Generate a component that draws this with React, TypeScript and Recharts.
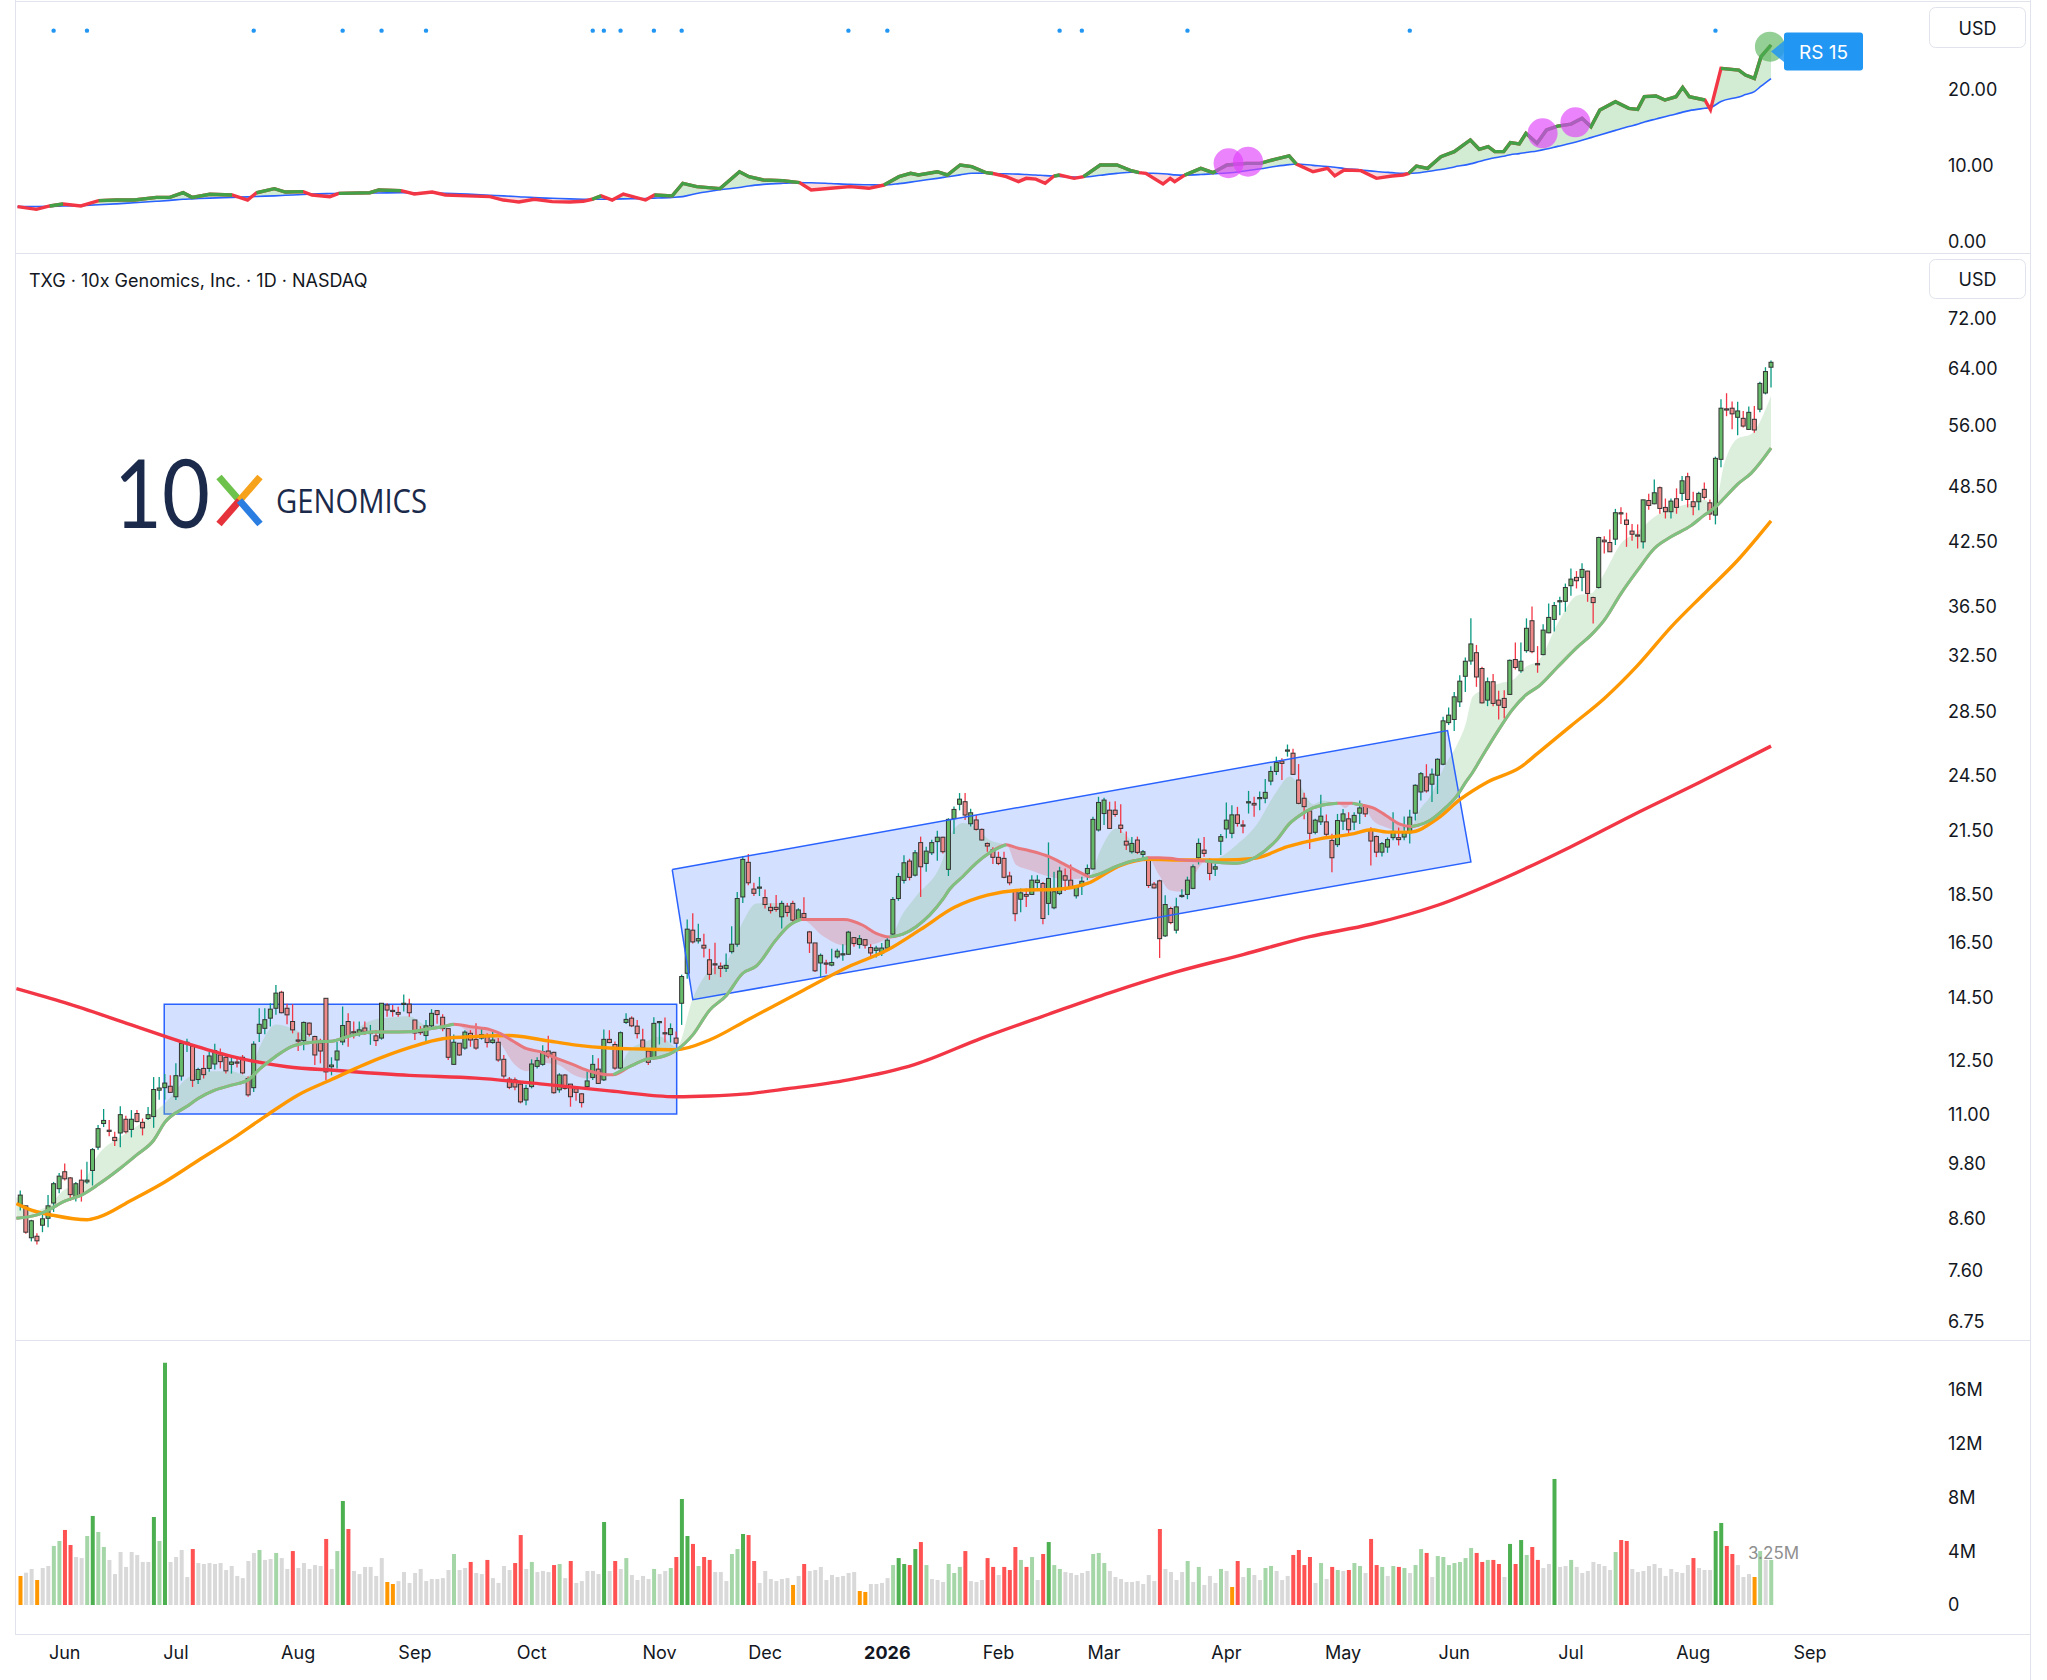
import React from "react";
import { Area, Bar, Cell, ComposedChart, Line, ReferenceArea, XAxis, YAxis } from "recharts";

/* ---------- data (x = trading-day index, 0 = 20 May 2025) ---------- */
const MONTH_TICKS = [8, 28, 50, 71, 92, 115, 134, 156, 176, 195, 217, 238, 258, 279, 301, 322];
const MONTH_LABELS = ["Jun", "Jul", "Aug", "Sep", "Oct", "Nov", "Dec", "2026", "Feb", "Mar", "Apr", "May", "Jun", "Jul", "Aug", "Sep"];
const PRICE_TICKS = [6.75, 7.6, 8.6, 9.8, 11, 12.5, 14.5, 16.5, 18.5, 21.5, 24.5, 28.5, 32.5, 36.5, 42.5, 48.5, 56, 64, 72];
const RS_TICKS = [0, 10, 20];
const VOL_TICKS = [0, 4, 8, 12, 16];

// open, high, low, close
const OHLC: [number, number, number, number][] = [
  [8.98, 9.28, 8.85, 9.18], [8.95, 8.95, 8.38, 8.41], [8.3, 8.66, 8.23, 8.64], [8.33, 8.39, 8.17, 8.24],
  [8.55, 8.78, 8.41, 8.68], [8.69, 9.18, 8.51, 8.95], [9.01, 9.47, 8.82, 9.43], [9.32, 9.67, 9.22, 9.6],
  [9.7, 9.89, 9.5, 9.54], [9.56, 9.58, 9.06, 9.19], [9.13, 9.47, 9.04, 9.43], [9.51, 9.75, 9.04, 9.19],
  [9.47, 9.93, 9.43, 9.51], [9.73, 10.26, 9.39, 10.22], [10.28, 10.83, 10.22, 10.74], [10.87, 11.25, 10.78, 10.95],
  [10.7, 10.96, 10.55, 10.68], [10.52, 10.66, 10.31, 10.44], [10.63, 11.32, 10.28, 11.1], [10.98, 11.07, 10.62, 10.66],
  [10.72, 11.22, 10.52, 10.98], [11.13, 11.22, 10.9, 10.92], [10.9, 11.0, 10.57, 10.76], [11.0, 11.3, 10.96, 11.1],
  [11.05, 12.13, 10.76, 11.78], [11.76, 12.13, 11.5, 11.82], [11.83, 12.22, 11.5, 11.96], [11.87, 12.18, 11.68, 11.7],
  [11.58, 12.53, 11.49, 12.17], [12.16, 13.18, 12.03, 13.13], [13.13, 13.28, 12.87, 13.17], [13.05, 13.05, 11.85, 12.04],
  [12.06, 12.4, 11.93, 12.35], [12.38, 12.78, 12.09, 12.2], [12.38, 12.88, 12.28, 12.75], [12.51, 13.12, 12.35, 12.91],
  [12.78, 12.98, 12.38, 12.58], [12.71, 12.78, 12.23, 12.31], [12.5, 12.75, 12.23, 12.57], [12.57, 12.73, 12.41, 12.56],
  [12.71, 12.78, 12.21, 12.25], [12.09, 12.15, 11.58, 11.63], [11.83, 13.2, 11.71, 13.11], [13.45, 14.27, 13.18, 13.74],
  [13.61, 14.27, 13.42, 13.89], [13.94, 14.44, 13.67, 14.24], [14.27, 15.08, 14.05, 14.79], [14.82, 14.87, 14.1, 14.12],
  [14.27, 14.42, 13.74, 14.05], [13.83, 14.41, 13.45, 13.56], [13.24, 13.48, 12.9, 13.21], [13.22, 13.83, 12.92, 13.8],
  [13.78, 13.8, 13.35, 13.42], [13.35, 13.37, 12.48, 12.78], [13.15, 13.28, 12.53, 12.9], [14.61, 14.61, 12.04, 12.28],
  [12.43, 12.71, 12.18, 12.48], [12.63, 13.18, 12.38, 12.9], [13.18, 14.33, 13.08, 13.7], [13.83, 14.1, 13.03, 13.35],
  [13.5, 13.83, 13.29, 13.48], [13.46, 13.83, 13.35, 13.56], [13.62, 13.83, 13.4, 13.51], [13.46, 13.72, 13.09, 13.48],
  [13.37, 13.56, 13.05, 13.22], [13.3, 14.44, 13.25, 14.44], [14.38, 14.44, 13.99, 14.21], [14.2, 14.38, 13.99, 14.19],
  [14.13, 14.32, 13.99, 14.07], [14.42, 14.74, 14.16, 14.44], [14.41, 14.59, 13.99, 14.12], [13.88, 13.88, 13.24, 13.46],
  [13.51, 13.68, 13.4, 13.47], [13.38, 13.88, 13.14, 13.69], [13.69, 14.24, 13.6, 14.1], [14.19, 14.21, 13.76, 14.06],
  [13.97, 14.07, 13.52, 13.6], [13.6, 13.6, 12.63, 12.71], [12.5, 13.41, 12.48, 13.17], [13.14, 13.14, 12.75, 12.78],
  [12.99, 13.55, 12.94, 13.49], [13.45, 13.55, 13.03, 13.24], [13.26, 13.77, 12.94, 12.99], [13.3, 13.6, 13.25, 13.41],
  [13.37, 13.45, 13.01, 13.16], [13.16, 13.5, 13.12, 13.24], [13.17, 13.3, 12.58, 12.63], [12.65, 12.78, 12.09, 12.16],
  [12.07, 12.13, 11.79, 11.84], [12.05, 12.12, 11.76, 11.85], [11.93, 11.96, 11.4, 11.44], [11.49, 11.91, 11.35, 11.81],
  [11.86, 12.65, 11.81, 12.51], [12.44, 12.71, 12.38, 12.61], [12.5, 13.08, 12.46, 12.88], [12.9, 13.37, 12.68, 12.75],
  [12.86, 12.88, 11.66, 11.69], [11.77, 12.24, 11.69, 12.19], [12.19, 12.22, 11.77, 11.81], [11.93, 11.93, 11.31, 11.58],
  [11.8, 11.86, 11.47, 11.7], [11.66, 11.68, 11.29, 11.42], [11.86, 12.29, 11.77, 12.02], [12.12, 12.78, 12.05, 12.5],
  [12.36, 12.68, 11.94, 11.95], [12.05, 13.57, 12.02, 13.26], [13.26, 13.55, 13.14, 13.16], [13.1, 13.19, 12.34, 12.39],
  [12.39, 13.51, 12.36, 13.47], [13.8, 14.1, 13.75, 13.9], [13.94, 14.0, 13.65, 13.69], [13.68, 13.88, 13.29, 13.44],
  [13.24, 13.6, 12.94, 13.01], [12.9, 12.93, 12.48, 12.56], [12.68, 13.97, 12.63, 13.77], [13.8, 13.85, 13.1, 13.83],
  [13.47, 13.96, 13.16, 13.45], [13.41, 13.77, 13.16, 13.6], [13.3, 13.51, 13.12, 13.14], [14.44, 15.45, 13.72, 15.38],
  [15.5, 17.6, 15.3, 17.2], [17.16, 17.86, 16.63, 16.69], [16.73, 17.42, 16.63, 16.82], [16.56, 17.02, 16.09, 16.45],
  [16.0, 16.42, 15.26, 15.46], [15.85, 16.66, 15.46, 15.82], [15.76, 15.9, 15.36, 15.68], [15.68, 16.24, 15.55, 15.79],
  [16.31, 17.32, 16.24, 16.6], [16.6, 18.78, 16.5, 18.49], [18.56, 20.44, 18.3, 20.28], [20.14, 20.54, 19.08, 19.19],
  [18.91, 19.19, 18.6, 18.72], [18.97, 19.46, 18.6, 19.0], [18.53, 18.89, 18.06, 18.23], [18.11, 18.28, 17.85, 17.97],
  [18.11, 18.65, 17.92, 18.02], [17.71, 18.39, 17.23, 18.28], [18.16, 18.3, 17.71, 17.89], [18.28, 18.39, 17.5, 17.57],
  [17.57, 18.07, 17.5, 18.0], [17.85, 18.55, 17.63, 17.67], [17.09, 17.13, 16.26, 16.65], [16.65, 16.65, 15.55, 15.59],
  [15.88, 16.24, 15.36, 16.17], [15.88, 16.0, 15.48, 15.86], [15.8, 16.42, 15.76, 15.9], [16.11, 16.42, 16.05, 16.33],
  [16.21, 16.6, 15.96, 16.23], [16.21, 17.13, 16.19, 17.08], [16.86, 16.89, 16.5, 16.63], [16.59, 16.96, 16.43, 16.82],
  [16.78, 16.8, 16.43, 16.56], [16.47, 16.6, 16.11, 16.26], [16.36, 16.54, 16.09, 16.45], [16.26, 16.65, 16.14, 16.45],
  [16.45, 16.86, 16.38, 16.76], [17.0, 18.56, 16.89, 18.45], [18.49, 19.63, 18.39, 19.48], [19.3, 20.48, 19.16, 20.12],
  [20.2, 20.31, 19.3, 19.44], [19.54, 20.73, 19.48, 20.6], [21.1, 21.4, 18.56, 19.93], [20.09, 20.89, 19.7, 20.68],
  [20.6, 21.24, 20.49, 21.1], [21.15, 21.7, 20.22, 21.37], [21.37, 21.4, 20.57, 20.65], [19.81, 22.35, 19.5, 22.29],
  [22.33, 22.98, 21.54, 22.82], [23.1, 23.72, 22.77, 23.38], [23.24, 23.72, 22.26, 22.52], [22.06, 22.86, 21.92, 22.64],
  [22.26, 22.52, 21.71, 21.77], [21.77, 21.82, 21.2, 21.23], [21.06, 21.1, 20.65, 20.93], [20.74, 20.87, 20.06, 20.38],
  [20.38, 20.65, 20.01, 20.09], [20.33, 20.65, 19.4, 19.44], [19.5, 19.7, 19.08, 19.19], [18.82, 18.82, 17.52, 17.84],
  [18.46, 18.93, 17.9, 18.74], [18.67, 18.93, 18.12, 18.59], [18.67, 19.54, 18.64, 19.31], [19.2, 19.54, 18.82, 19.31],
  [19.16, 19.23, 17.4, 17.64], [18.28, 21.11, 17.78, 19.39], [18.09, 19.7, 18.03, 18.79], [18.71, 19.93, 18.64, 19.73],
  [19.51, 19.85, 18.82, 19.31], [19.31, 20.04, 18.93, 19.0], [18.61, 19.08, 18.49, 19.0], [19.05, 19.47, 18.64, 19.26],
  [19.6, 20.04, 19.31, 19.85], [19.83, 22.43, 19.8, 22.29], [21.74, 23.51, 21.66, 23.2], [22.6, 23.46, 22.0, 23.33],
  [22.78, 23.24, 21.79, 21.82], [22.78, 23.27, 22.43, 22.55], [21.99, 23.1, 21.58, 21.82], [21.17, 21.66, 20.73, 20.98],
  [20.65, 21.38, 20.57, 21.06], [21.23, 21.4, 20.54, 20.62], [20.52, 20.73, 20.2, 20.65], [20.36, 20.41, 18.96, 19.07],
  [19.13, 19.23, 18.93, 18.96], [19.28, 19.33, 16.07, 16.82], [16.93, 18.63, 16.89, 18.23], [18.06, 18.13, 17.4, 17.47],
  [17.16, 18.53, 17.03, 18.13], [18.59, 18.9, 18.53, 18.63], [18.67, 19.47, 18.46, 19.31], [18.94, 20.04, 18.9, 19.93],
  [20.36, 21.31, 20.04, 21.06], [20.73, 21.38, 20.41, 20.57], [20.25, 20.33, 19.31, 19.62], [19.82, 20.09, 19.5, 19.93],
  [21.17, 21.53, 20.49, 21.4], [21.79, 23.2, 21.32, 22.25], [21.57, 23.04, 21.32, 22.53], [22.53, 22.96, 21.91, 22.08],
  [22.0, 22.25, 21.57, 21.97], [23.2, 23.84, 22.6, 23.24], [23.15, 23.51, 22.43, 23.06], [23.43, 23.8, 22.78, 23.47],
  [23.43, 24.52, 23.15, 23.76], [24.4, 25.27, 24.16, 24.96], [24.96, 25.85, 24.75, 25.5], [25.58, 25.75, 24.46, 25.44],
  [26.22, 26.6, 25.85, 26.26], [26.06, 26.33, 24.75, 24.79], [24.46, 25.4, 23.1, 23.15], [23.43, 23.74, 22.3, 22.97],
  [22.74, 22.78, 20.79, 21.57], [21.62, 22.33, 21.52, 22.25], [22.16, 23.62, 21.99, 22.46], [22.16, 22.55, 21.29, 21.52],
  [21.21, 21.55, 19.68, 20.36], [21.0, 22.58, 20.88, 22.23], [22.2, 22.85, 21.74, 22.58], [22.32, 22.67, 21.58, 21.75],
  [22.15, 22.67, 21.74, 22.5], [22.62, 23.31, 22.05, 22.9], [23.03, 23.03, 22.41, 22.58], [21.75, 21.88, 19.99, 21.18],
  [21.41, 21.46, 20.39, 20.63], [20.63, 21.13, 20.42, 21.05], [20.88, 21.36, 20.6, 21.25], [21.35, 22.67, 21.22, 21.67],
  [21.35, 21.86, 20.96, 21.25], [21.38, 22.44, 21.22, 21.6], [21.6, 22.8, 21.06, 22.41], [22.62, 24.22, 22.23, 24.16],
  [23.78, 24.93, 23.31, 24.83], [24.64, 25.39, 23.74, 23.84], [24.22, 25.13, 23.22, 24.8], [24.74, 25.75, 23.67, 25.69],
  [25.39, 28.4, 25.33, 28.13], [28.01, 29.03, 27.85, 28.51], [28.22, 30.12, 27.47, 29.77], [29.42, 31.33, 29.06, 30.89],
  [31.25, 32.66, 30.12, 32.38], [32.4, 35.83, 32.12, 33.73], [33.04, 33.65, 30.48, 31.2], [31.83, 31.96, 29.3, 29.35],
  [29.54, 31.16, 29.12, 30.85], [30.85, 31.42, 29.12, 29.31], [29.54, 30.2, 28.22, 29.19], [29.66, 30.24, 28.29, 29.03],
  [29.94, 32.51, 29.9, 32.45], [32.51, 33.84, 31.76, 31.91], [31.66, 33.84, 31.51, 32.38], [33.2, 35.83, 33.04, 35.0],
  [35.63, 36.84, 33.0, 33.12], [32.2, 33.56, 31.51, 32.15], [32.89, 35.34, 32.85, 34.85], [34.63, 37.11, 34.6, 35.91],
  [35.74, 37.25, 34.73, 36.93], [37.3, 37.7, 36.1, 37.36], [37.3, 38.9, 36.4, 38.54], [38.7, 40.3, 37.8, 39.31],
  [39.47, 40.06, 38.45, 39.16], [39.47, 40.8, 38.2, 40.22], [40.06, 40.1, 37.26, 38.0], [37.64, 37.7, 35.4, 37.19],
  [38.54, 43.44, 38.45, 43.37], [43.1, 43.5, 41.75, 42.93], [42.86, 44.2, 41.9, 41.93], [43.2, 46.4, 42.6, 45.98],
  [45.98, 46.57, 44.76, 45.9], [45.19, 45.98, 42.42, 44.73], [44.03, 44.76, 43.03, 43.7], [43.63, 44.73, 42.26, 43.56],
  [42.93, 47.4, 42.26, 47.4], [47.33, 48.1, 46.3, 46.78], [46.96, 49.74, 46.9, 48.2], [48.78, 48.93, 45.87, 46.45],
  [46.56, 47.55, 45.36, 46.09], [46.09, 47.55, 45.36, 47.26], [47.52, 48.7, 45.87, 46.56], [48.13, 50.14, 47.26, 49.58],
  [50.06, 50.53, 46.56, 47.44], [47.19, 48.32, 45.7, 46.64], [47.19, 48.32, 46.24, 48.13], [48.59, 49.39, 47.44, 47.68],
  [47.07, 47.44, 45.2, 45.84], [45.72, 52.49, 44.73, 52.28], [52.16, 60.12, 51.18, 58.85], [58.76, 60.97, 57.75, 58.67],
  [58.85, 59.8, 55.99, 58.07], [57.6, 59.76, 55.2, 58.47], [57.46, 58.47, 56.24, 56.42], [55.98, 59.08, 55.9, 58.28],
  [57.33, 59.17, 55.55, 55.9], [58.71, 62.63, 58.28, 62.4], [61.0, 64.83, 60.8, 64.17], [64.83, 65.86, 61.8, 65.59],
];

// volume in millions
const VOLUME = [
  2.16, 2.4, 2.68, 1.86, 2.75, 2.9, 4.39, 4.76, 5.58, 4.46, 3.57, 3.49, 5.13, 6.62, 5.43, 4.31, 3.35, 2.3, 3.94, 2.83,
  3.94, 3.72, 3.2, 3.2, 6.54, 4.76, 18.0, 3.2, 3.57, 4.09, 2.08, 4.16, 3.12, 3.05, 3.12, 3.05, 3.12, 2.6, 2.9, 2.16,
  2.0, 3.27, 3.87, 4.09, 3.35, 3.42, 3.87, 3.49, 2.68, 4.01, 2.75, 3.12, 2.68, 2.97, 2.9, 4.91, 2.68, 4.01, 7.73, 5.65,
  2.53, 2.3, 2.83, 2.83, 2.16, 3.49, 1.71, 1.56, 1.78, 2.45, 1.64, 2.38, 2.68, 1.78, 1.93, 1.93, 2.0, 2.6, 3.79, 2.6,
  2.75, 3.2, 2.38, 2.3, 3.35, 2.0, 1.64, 2.9, 2.6, 3.12, 5.2, 2.68, 3.2, 2.45, 2.53, 2.45, 2.97, 3.05, 2.0, 3.27,
  1.64, 1.78, 2.53, 2.53, 2.3, 6.17, 2.53, 3.27, 2.68, 3.49, 2.23, 1.86, 2.16, 1.93, 2.68, 2.3, 2.53, 2.75, 3.57, 7.88,
  5.13, 4.54, 2.9, 3.57, 3.35, 2.45, 2.45, 1.78, 3.79, 4.16, 5.28, 5.2, 3.27, 1.64, 2.53, 1.93, 1.78, 1.93, 2.0, 1.49,
  2.16, 3.05, 2.53, 2.6, 2.83, 1.86, 2.23, 2.08, 2.16, 2.38, 2.45, 1.04, 0.97, 1.56, 1.56, 1.64, 2.0, 2.97, 3.49, 3.05,
  2.97, 4.16, 4.68, 2.97, 1.93, 1.86, 1.71, 3.05, 2.38, 2.83, 4.01, 1.78, 1.71, 1.86, 3.49, 2.83, 2.23, 2.83, 2.6, 4.31,
  3.35, 2.83, 3.57, 1.86, 3.79, 4.68, 2.97, 2.68, 2.45, 2.38, 2.23, 2.38, 2.53, 3.79, 3.87, 3.12, 2.53, 2.08, 1.93, 1.71,
  1.71, 1.78, 1.56, 2.23, 1.78, 5.65, 2.68, 2.45, 1.86, 2.45, 3.27, 1.71, 2.83, 1.49, 2.16, 1.64, 2.68, 2.53, 1.34, 3.27,
  2.08, 2.75, 2.23, 1.86, 2.75, 2.9, 2.53, 1.86, 2.16, 3.72, 4.09, 2.97, 3.57, 1.64, 3.12, 1.93, 2.83, 2.6, 2.53, 2.6,
  3.12, 2.9, 2.38, 4.91, 2.97, 2.83, 2.16, 2.9, 2.83, 2.75, 2.38, 2.97, 4.16, 3.87, 2.08, 3.64, 3.57, 2.97, 3.12, 3.2,
  3.49, 4.24, 3.87, 3.2, 3.35, 3.35, 3.05, 2.08, 4.54, 3.05, 4.83, 3.72, 4.31, 3.35, 2.75, 3.05, 9.37, 2.83, 2.9, 3.35,
  2.83, 2.38, 2.53, 3.2, 3.05, 2.9, 2.6, 3.94, 4.83, 4.76, 2.68, 2.45, 2.53, 2.9, 3.05, 2.75, 2.16, 2.68, 2.45, 2.38,
  2.97, 3.49, 2.75, 2.6, 2.6, 5.5, 6.1, 4.39, 3.79, 2.97, 2.08, 2.3, 2.08, 4.01, 3.35, 3.35,
];

// G strong up, R strong down, l mild up, g quiet, O lowest
const VOL_TONE =
  "OggOggllRR" + "gglGllgggg" + "ggggGlGggg" + "gRgggggggg" + "ggglgglggR" +
  "gggggRglGR" + "ggggggOOgg" + "gggggggglg" + "gRggRggggR" + "RglgggRlgR" +
  "gggggGgRgl" + "gggglgglRG" + "GRlRRgggll" + "GRRggggggO" + "gRgggggggg" +
  "gOOgggglGG" + "RGRlggglll" + "RgggRRgRRR" + "lRlgRGllgg" + "ggglllgggg" +
  "gggggRgggg" + "lglggglgOR" + "glggllgggR" + "RRRglgRlgR" + "llgRRlglRl" +
  "gllRglllll" + "llRRlRRgGR" + "GlRRggGggl" + "ggggggglRR" + "gggggggggg" +
  "gRgggGGRRg" + "ggOlgl";

const MA200: [number, number][] = [
  [-0.7, 14.95], [8, 14.46], [20, 13.72], [30, 13.13], [38, 12.74], [48, 12.43], [57, 12.32], [70, 12.18],
  [82, 12.1], [94, 11.93], [106, 11.74], [118, 11.58], [124, 11.6], [130, 11.65], [138, 11.8], [149, 12.05],
  [161, 12.5], [173, 13.3], [185, 14.07], [196, 14.8], [208, 15.55], [220, 16.2], [232, 16.9], [243, 17.4],
  [255, 18.2], [267, 19.4], [279, 20.9], [290, 22.5], [302, 24.3], [315, 26.5],
];

const MA50: [number, number][] = [
  [-0.7, 9.0], [2, 8.86], [6, 8.75], [12, 8.66], [14, 8.71], [20, 9.07], [26, 9.47], [32, 9.96], [38, 10.47],
  [44, 11.05], [50, 11.63], [56, 12.06], [62, 12.5], [70, 13.0], [76, 13.28], [82, 13.35], [88, 13.38],
  [94, 13.24], [100, 13.08], [106, 12.99], [112, 12.96], [118, 12.94], [124, 13.24], [131, 13.9], [141, 14.9],
  [149, 15.74], [156, 16.37], [162, 17.19], [168, 18.1], [174, 18.64], [180, 18.86], [186, 18.89], [192, 19.16],
  [198, 20.0], [203, 20.28], [210, 20.25], [216, 20.25], [222, 20.33], [228, 20.9], [234, 21.3], [240, 21.55],
  [243, 21.75], [246, 21.63], [250, 21.63], [255, 22.33], [259, 23.35], [264, 24.35], [270, 25.23], [273, 26.05],
  [279, 27.8], [285, 29.66], [291, 32.07], [297, 35.1], [303, 38.0], [309, 41.1], [315, 45.1],
];

// index, slow average (drawn), fast average (cloud edge)
const EMA_BAND: [number, number, number][] = [
  [-0.7, 8.69, 9.14], [3, 8.76, 8.86], [5, 8.86, 8.95], [8, 9.05, 9.3], [11, 9.18, 9.42], [14, 9.41, 10.1],
  [18, 9.78, 10.53], [21, 10.1, 10.8], [24, 10.45, 11.15], [26, 10.9, 11.4], [30, 11.32, 12.1], [32, 11.53, 12.25],
  [35, 11.76, 12.3], [38, 11.9, 12.3], [41, 12.05, 12.16], [43, 12.35, 13.0], [46, 12.74, 13.73], [49, 13.05, 13.6],
  [53, 13.18, 13.28], [56, 13.2, 13.25], [59, 13.35, 13.45], [63.5, 13.49, 13.88], [66, 13.49, 13.95], [70, 13.5, 14.0],
  [73, 13.58, 13.72], [76, 13.66, 13.72], [78, 13.74, 13.74], [81.5, 13.65, 13.41], [84.5, 13.57, 13.3],
  [86.3, 13.45, 13.14], [88.7, 13.2, 12.54], [91.1, 12.97, 12.3], [93.5, 12.88, 12.55], [96.5, 12.68, 12.5],
  [99.5, 12.49, 12.2], [102.5, 12.3, 12.08], [105.5, 12.2, 12.16], [106.7, 12.2, 12.2], [109.7, 12.44, 12.94],
  [112.7, 12.65, 13.2], [115.1, 12.71, 13.35], [118.1, 12.93, 13.02], [121, 13.4, 14.6], [124, 14.2, 15.6],
  [127, 14.7, 15.9], [130, 15.5, 17.5], [132.4, 15.76, 18.28], [136, 16.78, 18.3], [138.4, 17.36, 18.14],
  [140.5, 17.6, 17.6], [144.6, 17.6, 16.9], [148.2, 17.6, 16.56], [151.6, 17.36, 16.56], [154, 17.03, 16.63],
  [156.4, 16.89, 16.89], [158.8, 17.0, 17.85], [161.2, 17.3, 18.6], [166, 18.46, 20.3], [167.2, 18.9, 21.4],
  [169.6, 19.48, 22.1], [172, 20.1, 21.85], [174.4, 20.6, 21.23], [177.4, 21.0, 21.0], [179.2, 20.85, 20.01],
  [181.6, 20.7, 19.78], [185.2, 20.4, 19.47], [188.2, 20.0, 19.36], [191.2, 19.6, 19.39], [192.4, 19.47, 19.47],
  [194.2, 19.6, 20.65], [197.2, 19.95, 21.82], [199.6, 20.17, 21.3], [202, 20.3, 20.49], [202.9, 20.36, 20.36],
  [204.9, 20.36, 19.54], [206.8, 20.33, 18.86], [209.2, 20.25, 18.79], [211.6, 20.22, 19.7], [213.2, 20.2, 20.2],
  [215.2, 20.15, 20.3], [218.8, 20.1, 20.98], [222.4, 20.41, 21.99], [226, 21.22, 23.8], [228.4, 22.08, 24.66],
  [230.2, 22.5, 24.14], [232.6, 22.9, 23.1], [234.4, 23.06, 23.3], [237, 23.16, 23.16], [238.4, 23.16, 22.9],
  [239.7, 23.15, 23.15], [240.6, 23.1, 23.2], [241.5, 23.05, 23.05], [243.4, 22.9, 22.23], [245.7, 22.5, 21.88],
  [248.1, 22.06, 21.71], [250.3, 21.92, 21.92], [251.7, 22.0, 22.76], [253.6, 22.23, 23.5], [256.5, 22.93, 25.43],
  [258.3, 23.49, 26.45], [260.1, 24.35, 27.97], [261.3, 24.9, 29.77], [263.1, 25.9, 30.24], [266.1, 27.6, 30.73],
  [268.5, 28.9, 30.97], [270.9, 29.9, 31.96], [273.3, 30.55, 32.5], [276.6, 31.94, 35.4], [280.2, 33.5, 37.85],
  [282.6, 34.44, 38.0], [285, 35.68, 39.84], [288, 37.99, 42.75], [291, 40.15, 43.96], [294, 42.26, 45.53],
  [297, 43.44, 46.45], [300.6, 44.6, 47.0], [303, 45.72, 47.37], [304.8, 46.5, 46.64], [306.6, 47.6, 51.67],
  [309, 49.2, 54.8], [311.4, 50.46, 55.35], [315, 53.55, 60.6],
];

// index, relative strength line, its average
const RS_POINTS: [number, number, number][] = [
  [-0.5, 4.58, 4.58], [2.9, 4.23, 4.6], [5.3, 4.67, 4.62], [7.7, 4.93, 4.66], [10.9, 4.67, 4.72], [14.1, 5.37, 4.82],
  [17.3, 5.45, 4.95], [20.5, 5.45, 5.1], [24.5, 5.8, 5.28], [26.9, 5.8, 5.4], [29.3, 6.41, 5.55], [30.9, 5.8, 5.6],
  [34.1, 6.2, 5.7], [38.1, 6.11, 5.8], [40.9, 5.45, 5.87], [42.5, 6.41, 5.92], [45.7, 6.94, 6.0], [47.7, 6.5, 6.07],
  [50.9, 6.55, 6.18], [52.5, 6.11, 6.24], [55.7, 5.89, 6.3], [57.3, 6.33, 6.32], [62.9, 6.41, 6.37], [64.5, 6.77, 6.38],
  [68.5, 6.68, 6.41], [70.9, 6.24, 6.4], [74.1, 6.5, 6.37], [76.5, 6.11, 6.33], [80.5, 6.0, 6.22], [84.5, 5.89, 6.08],
  [86.9, 5.45, 6.0], [89.7, 5.2, 5.88], [92.5, 5.55, 5.76], [95.7, 5.24, 5.68], [98.9, 5.2, 5.6], [101.3, 5.28, 5.56],
  [102.9, 5.55, 5.55], [104.5, 6.0, 5.55], [106.5, 5.45, 5.57], [108.5, 6.24, 5.6], [112.5, 5.45, 5.66],
  [114.1, 6.11, 5.7], [117.3, 6.0, 5.8], [119.2, 7.65, 5.9], [121.7, 7.21, 6.3], [125.9, 6.95, 6.8],
  [129.4, 9.17, 7.1], [131.1, 8.52, 7.3], [133.7, 8.08, 7.5], [137.2, 8.0, 7.65], [140.2, 7.73, 7.73],
  [142.3, 6.77, 7.72], [145.8, 6.99, 7.62], [149.3, 7.21, 7.5], [152.7, 6.99, 7.45], [155.4, 7.42, 7.42],
  [158.1, 8.52, 7.6], [160.2, 8.96, 7.8], [161.6, 8.74, 7.95], [165, 9.17, 8.3], [166.8, 8.74, 8.5],
  [169.1, 10.05, 8.75], [171.2, 9.83, 8.96], [173.8, 9.04, 8.98], [175, 8.93, 8.93], [177.4, 8.52, 8.9],
  [179.6, 7.86, 8.85], [181, 8.3, 8.8], [182.7, 8.19, 8.74], [184.4, 7.65, 8.65], [186, 8.6, 8.6], [187, 8.74, 8.55],
  [189.6, 8.3, 8.47], [191.3, 8.52, 8.45], [194.3, 10.05, 8.7], [197.3, 10.05, 8.95], [199.9, 9.3, 9.1],
  [201.3, 9.05, 9.05], [202.5, 8.96, 9.0], [205.6, 7.55, 8.9], [206.9, 8.3, 8.82], [207.7, 7.86, 8.75],
  [209.5, 8.72, 8.72], [212.4, 9.61, 8.8], [214.6, 9.04, 8.9], [217.1, 10.05, 9.0], [220.6, 10.27, 9.3],
  [223.1, 10.27, 9.55], [225.7, 10.8, 9.85], [228.3, 11.24, 10.1], [229.6, 10.18, 10.18], [232.6, 9.17, 10.0],
  [235.2, 9.61, 9.85], [236.5, 8.63, 9.75], [238.2, 9.4, 9.6], [241.2, 9.31, 9.4], [244, 8.3, 9.2],
  [246.8, 8.6, 9.05], [248.8, 8.74, 8.95], [249.8, 8.95, 8.95], [251.2, 9.92, 9.0], [253.2, 9.61, 9.2],
  [255.6, 11.15, 9.45], [258, 11.81, 9.8], [260.9, 13.34, 10.2], [262.5, 12.12, 10.5], [264.1, 12.46, 10.8],
  [265.3, 11.81, 11.0], [266.9, 11.81, 11.2], [268.1, 12.99, 11.4], [269.7, 12.81, 11.55], [270.9, 14.21, 11.7],
  [272.9, 12.9, 11.9], [274.6, 14.65, 12.15], [276.6, 15.17, 12.5], [279, 15.43, 12.9], [281, 16.18, 13.3],
  [282.6, 15.08, 13.65], [284.2, 17.27, 14.0], [287, 18.37, 14.6], [289.4, 17.49, 15.1], [291, 17.36, 15.4],
  [292.2, 19.03, 15.7], [294.3, 19.12, 16.1], [295.9, 18.59, 16.4], [297.9, 19.03, 16.75], [299.1, 20.25, 17.0],
  [300.3, 19.03, 17.2], [303.1, 18.59, 17.5], [304.1, 17.3, 17.6], [306, 22.75, 18.4], [309.2, 22.53, 19.0],
  [310.4, 21.87, 19.3], [312, 21.43, 19.7], [313.2, 24.28, 20.4], [315, 25.82, 21.4],
];
const RS_HIGH_DAYS = [6, 12, 42, 58, 65, 73, 103, 105, 108, 114, 119, 149, 156, 187, 191, 210, 250, 305];
const RS_HIGH_LEVEL = 27.7;
const RS_PINK_MARKS: [number, number][] = [[217.4, 10.28], [220.9, 10.49], [273.9, 14.22], [279.8, 15.66]];
const RS_LAST_MARK: [number, number][] = [[314.8, 25.6]];

// drawn annotations, in data coordinates
const BASE_BOX = { x1: 25.9, x2: 118.1, low: 11.12, high: 14.41 };
const CHANNEL: [number, number][] = [[117.3, 19.8], [256.8, 27.49], [261.0, 20.16], [121.0, 14.56]];

/* ---------- layout ---------- */
const W = 2047;
const PLOT_L = 16;
const AXIS_W = 107;
const X_DOMAIN: [number, number] = [-0.77, 345.4];
const FONT = "Inter, 'Liberation Sans', Roboto, sans-serif";
const TEXT = "#131722";
const AXIS_TICK = { fontSize: 18, fill: TEXT, fontFamily: FONT } as const;
const PRICE_TICK = { ...AXIS_TICK, dy: -4 };
const TONE_COLORS: Record<string, string> = { G: "#4caf50", R: "#ff5252", l: "#a5d6a7", g: "#d9d9d9", O: "#ff9800" };

/* ---------- derived rows ---------- */
const candleRows = OHLC.map(([o, h, l, c], i) => ({ i, o, h, l, c }));
const volRows = VOLUME.map((v, i) => ({ i, v, tone: VOL_TONE[i] }));
const ma200Rows = MA200.map(([i, v]) => ({ i, v }));
const ma50Rows = MA50.map(([i, v]) => ({ i, v }));
const emaRows = EMA_BAND.map(([i, s, f]) => ({
  i, s,
  up: [s, Math.max(s, f)],
  dn: [Math.min(s, f), s],
  sg: f >= s ? s : null,
}));
const rsRows = RS_POINTS.map(([i, r, a]) => ({
  i, r, a,
  up: [a, Math.max(r, a)],
  dn: [Math.min(r, a), a],
  rg: r >= a ? r : null,
}));
const highRows = RS_HIGH_DAYS.map((i) => ({ i, v: RS_HIGH_LEVEL }));
const pinkRows = RS_PINK_MARKS.map(([i, v]) => ({ i, v }));
const lastRows = RS_LAST_MARK.map(([i, v]) => ({ i, v }));

// channel fill as a range band between its upper and lower edges
const [chA, chB, chC, chD] = CHANNEL;
const edgeAt = (p: [number, number], q: [number, number], x: number) =>
  Math.exp(Math.log(p[1]) + ((x - p[0]) / (q[0] - p[0])) * (Math.log(q[1]) - Math.log(p[1])));
const channelFill = [
  { i: chA[0], b: [chA[1], chA[1]] },
  { i: chD[0], b: [chD[1], edgeAt(chA, chB, chD[0])] },
  { i: chB[0], b: [edgeAt(chD, chC, chB[0]), chB[1]] },
  { i: chC[0], b: [chC[1], chC[1]] },
];
const channelEdge = [chA, chB, chC, chD, chA].map(([i, v]) => ({ i, v }));

/* ---------- shapes ---------- */
function Candle(props: any) {
  const { x, y, width, height, payload } = props;
  if (x == null || y == null) return null;
  const top = Math.min(y, y + height);
  const span = Math.abs(height);
  const lh = Math.log(payload.h);
  const ll = Math.log(payload.l);
  const py = (v: number) => (lh === ll ? top : top + (span * (lh - Math.log(v))) / (lh - ll));
  const cx = x + width / 2;
  const up = payload.c >= payload.o;
  const yo = py(payload.o);
  const yc = py(payload.c);
  const bt = Math.min(yo, yc);
  const bh = Math.max(1.2, Math.abs(yo - yc));
  return (
    <g>
      <line x1={cx} x2={cx} y1={top} y2={top + span} stroke={up ? "#089981" : "#f23645"} strokeWidth={1.3} />
      <rect x={cx - 2} y={bt} width={4} height={bh} fill={up ? "#66bb6a" : "#ef8a8a"} stroke="#333" strokeWidth={1} />
    </g>
  );
}

function MonthTick(props: any) {
  const { x, payload } = props;
  const k = MONTH_TICKS.indexOf(payload.value);
  const label = MONTH_LABELS[k] ?? "";
  return (
    <text x={x} y={312} textAnchor="middle" dominantBaseline="central" fontSize={18}
      fontFamily={FONT} fontWeight={label === "2026" ? 700 : 400} fill={TEXT}>
      {label}
    </text>
  );
}

const highDot = (p: any) => <circle key={`h${p.index}`} cx={p.cx} cy={p.cy} r={2.2} fill="#2196f3" />;
const pinkDot = (p: any) => <circle key={`p${p.index}`} cx={p.cx} cy={p.cy} r={15} fill="#e040fb" fillOpacity={0.65} />;
const lastDot = (p: any) => <circle key={`l${p.index}`} cx={p.cx} cy={p.cy} r={15} fill="#4caf50" fillOpacity={0.6} />;

/* ---------- app ---------- */
export default function App() {
  return (
    <div style={{ position: "relative", width: W, height: 1680, background: "#fff", fontFamily: FONT }}>
      <style>{"body{margin:0;background:#fff}"}</style>

      {/* relative strength pane */}
      <div style={{ position: "absolute", left: 0, top: 0 }}>
        <ComposedChart width={W} height={253} data={rsRows} margin={{ top: 0, right: 0, bottom: 0, left: PLOT_L }}>
          <XAxis type="number" dataKey="i" domain={X_DOMAIN} allowDataOverflow hide />
          <YAxis orientation="right" type="number" domain={[-1.51, 31.73]} allowDataOverflow ticks={RS_TICKS}
            interval={0} width={AXIS_W} axisLine={false} tickLine={false} tick={AXIS_TICK}
            tickFormatter={(v: number) => v.toFixed(2)} />
          <Area dataKey="up" type="linear" stroke="none" fill="#4caf50" fillOpacity={0.25} isAnimationActive={false} />
          <Area dataKey="dn" type="linear" stroke="none" fill="#f23645" fillOpacity={0.18} isAnimationActive={false} />
          <Line dataKey="a" type="monotone" stroke="#2962ff" strokeWidth={1.6} dot={false} isAnimationActive={false} />
          <Line dataKey="r" type="linear" stroke="#f23645" strokeWidth={3.4} dot={false} isAnimationActive={false} />
          <Line dataKey="rg" type="linear" stroke="#43a047" strokeWidth={3.4} dot={false} isAnimationActive={false} />
          <Line data={highRows} dataKey="v" stroke="none" dot={highDot} activeDot={false} isAnimationActive={false} />
          <Line data={pinkRows} dataKey="v" stroke="none" dot={pinkDot} activeDot={false} isAnimationActive={false} />
          <Line data={lastRows} dataKey="v" stroke="none" dot={lastDot} activeDot={false} isAnimationActive={false} />
        </ComposedChart>
      </div>

      {/* price pane */}
      <div style={{ position: "absolute", left: 0, top: 253 }}>
        <ComposedChart width={W} height={1087} data={candleRows} margin={{ top: 0, right: 0, bottom: 0, left: PLOT_L }}>
          <XAxis type="number" dataKey="i" domain={X_DOMAIN} allowDataOverflow hide />
          <YAxis orientation="right" type="number" scale="log" domain={[6.52, 84.9]} allowDataOverflow
            ticks={PRICE_TICKS} interval={0} width={AXIS_W} axisLine={false} tickLine={false} tick={PRICE_TICK}
            tickFormatter={(v: number) => v.toFixed(2)} />
          <ReferenceArea x1={BASE_BOX.x1} x2={BASE_BOX.x2} y1={BASE_BOX.low} y2={BASE_BOX.high}
            fill="#2962ff" fillOpacity={0.2} stroke="#2962ff" strokeWidth={1.5} strokeOpacity={1} />
          <Area data={channelFill} dataKey="b" type="linear" stroke="none" fill="#2962ff" fillOpacity={0.2}
            isAnimationActive={false} />
          <Line data={channelEdge} dataKey="v" type="linear" stroke="#2962ff" strokeWidth={1.5} dot={false}
            activeDot={false} isAnimationActive={false} />
          <Area data={emaRows} dataKey="up" type="monotone" stroke="none" fill="#81c784" fillOpacity={0.28}
            isAnimationActive={false} />
          <Area data={emaRows} dataKey="dn" type="monotone" stroke="none" fill="#e57373" fillOpacity={0.3}
            isAnimationActive={false} />
          <Line data={ma200Rows} dataKey="v" type="monotone" stroke="#f23645" strokeWidth={3.4} dot={false}
            activeDot={false} isAnimationActive={false} />
          <Line data={ma50Rows} dataKey="v" type="monotone" stroke="#ff9800" strokeWidth={3.4} dot={false}
            activeDot={false} isAnimationActive={false} />
          <Line data={emaRows} dataKey="s" type="monotone" stroke="#e8777d" strokeWidth={3} dot={false}
            activeDot={false} isAnimationActive={false} />
          <Line data={emaRows} dataKey="sg" type="monotone" stroke="#7dc281" strokeWidth={3} dot={false}
            activeDot={false} isAnimationActive={false} />
          <Bar dataKey={(d: any) => [d.l, d.h]} barSize={5} shape={(p: any) => <Candle {...p} />}
            isAnimationActive={false} />
        </ComposedChart>
      </div>

      {/* volume pane + time axis */}
      <div style={{ position: "absolute", left: 0, top: 1340 }}>
        <ComposedChart width={W} height={340} data={volRows} margin={{ top: 0, right: 0, bottom: 0, left: PLOT_L }}>
          <XAxis type="number" dataKey="i" domain={X_DOMAIN} allowDataOverflow ticks={MONTH_TICKS} interval={0}
            height={75} axisLine={false} tickLine={false} tick={<MonthTick />} />
          <YAxis orientation="right" type="number" domain={[0, 19.7]} allowDataOverflow ticks={VOL_TICKS}
            interval={0} width={AXIS_W} axisLine={false} tickLine={false} tick={AXIS_TICK}
            tickFormatter={(v: number) => (v === 0 ? "0" : `${v}M`)} />
          <Bar dataKey="v" barSize={4} isAnimationActive={false}>
            {volRows.map((d) => (
              <Cell key={d.i} fill={TONE_COLORS[d.tone]} />
            ))}
          </Bar>
        </ComposedChart>
      </div>

      {/* frame, header, logo and labels */}
      <svg width={W} height={1680} style={{ position: "absolute", left: 0, top: 0, pointerEvents: "none" }}
        fontFamily={FONT}>
        <g stroke="#e0e3eb" strokeWidth={1} fill="none">
          <line x1={15.5} y1={0} x2={15.5} y2={1634} />
          <line x1={2030.5} y1={0} x2={2030.5} y2={1680} />
          <line x1={15} y1={1.5} x2={2031} y2={1.5} />
          <line x1={15} y1={253.5} x2={2031} y2={253.5} />
          <line x1={15} y1={1340.5} x2={2031} y2={1340.5} />
          <line x1={15} y1={1634.5} x2={2031} y2={1634.5} />
        </g>

        <text x={29} y={280} dominantBaseline="central" fontSize={18} fill={TEXT}>
          TXG · 10x Genomics, Inc. · 1D · NASDAQ
        </text>

        <rect x={1929.5} y={7.5} width={96} height={40} rx={6} fill="#fff" stroke="#e0e3eb" />
        <text x={1977.5} y={28} textAnchor="middle" dominantBaseline="central" fontSize={18} fill={TEXT}>USD</text>
        <rect x={1929.5} y={259.5} width={96} height={39} rx={6} fill="#fff" stroke="#e0e3eb" />
        <text x={1977.5} y={279.5} textAnchor="middle" dominantBaseline="central" fontSize={18} fill={TEXT}>USD</text>

        <path d="M1771 51.5 L1784 41 L1784 62 Z" fill="#2196f3" fillOpacity={0.85} />
        <rect x={1784} y={32.5} width={79} height={38} rx={3} fill="#2196f3" />
        <text x={1823.5} y={52} textAnchor="middle" dominantBaseline="central" fontSize={19} fill="#fff">RS 15</text>

        <text x={1748} y={1553} dominantBaseline="central" fontSize={17} fill="#8f8f8f">3.25M</text>

        <g>
          <text x={114} y={528} fontFamily="Lato, Roboto, sans-serif" fontWeight={400} fontSize={95} fill="#1b2a4a"
            textLength={96} lengthAdjust="spacingAndGlyphs">10</text>
          <g strokeWidth={7} strokeLinecap="butt">
            <line x1={219} y1={477} x2={239.5} y2={500.5} stroke="#6cc24a" />
            <line x1={260} y1={477} x2={239.5} y2={500.5} stroke="#f7a21b" />
            <line x1={219} y1={524} x2={239.5} y2={500.5} stroke="#e5323b" />
            <line x1={260} y1={524} x2={239.5} y2={500.5} stroke="#2a7de1" />
          </g>
          <text x={276} y={513} fontFamily="'Open Sans', Lato, sans-serif" fontSize={32} fill="#1b2a4a"
            textLength={151} lengthAdjust="spacingAndGlyphs">GENOMICS</text>
        </g>
      </svg>
    </div>
  );
}
